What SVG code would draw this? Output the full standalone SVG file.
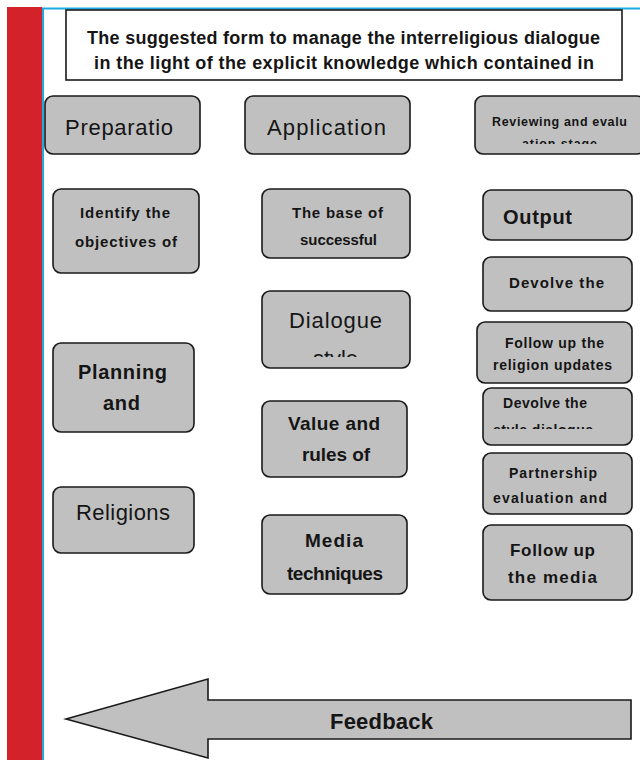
<svg xmlns="http://www.w3.org/2000/svg" width="640" height="760" viewBox="0 0 640 760">
<style>
.box{fill:#c0c0c0;stroke:#1a1a1a;stroke-width:1.6}
.t{font-family:"Liberation Sans",Arial,sans-serif;fill:#151515}
.b{font-weight:bold}
</style>
<defs>
<clipPath id="cRev"><rect x="475" y="96" width="165" height="48"/></clipPath>
<clipPath id="cDia"><rect x="262" y="291" width="148" height="66"/></clipPath>
<clipPath id="cDev2"><rect x="483" y="388" width="149" height="41"/></clipPath>
</defs>
<rect x="7" y="7" width="35" height="753" fill="#d3222a"/>
<path d="M43 8.5V760M42 8.5H640" stroke="#1ea9e3" stroke-width="2" fill="none"/>
<g id="title">
<rect x="66" y="10" width="556" height="70" fill="#fff" stroke="#1a1a1a" stroke-width="1.6"/>
<text class="t b" x="87" y="44" font-size="18" textLength="513">The suggested form to manage the interreligious dialogue</text>
<text class="t b" x="94" y="69" font-size="18" textLength="500">in the light of the explicit knowledge which contained in</text>
</g>
<g id="preparation">
<rect class="box" x="45" y="96" width="155" height="58" rx="8"/>
<text class="t" x="65" y="135" font-size="22" textLength="108">Preparatio</text>
</g>
<g id="application">
<rect class="box" x="245" y="96" width="165" height="58" rx="8"/>
<text class="t" x="267" y="135" font-size="22" textLength="119">Application</text>
</g>
<g id="reviewing">
<rect class="box" x="475" y="96" width="170" height="58" rx="8"/>
<g clip-path="url(#cRev)">
<text class="t b" x="492" y="126" font-size="12.5" textLength="135">Reviewing and evalu</text>
<text class="t b" x="522" y="148" font-size="12.5" textLength="75">ation stage</text>
</g>
</g>
<g id="identify">
<rect class="box" x="53" y="189" width="146" height="84" rx="8"/>
<text class="t b" x="80" y="218" font-size="15" textLength="90">Identify the</text>
<text class="t b" x="75" y="247" font-size="15" textLength="102">objectives of</text>
</g>
<g id="base">
<rect class="box" x="262" y="189" width="148" height="69" rx="8"/>
<text class="t b" x="292" y="218" font-size="15" textLength="91">The base of</text>
<text class="t b" x="300" y="245" font-size="15" textLength="77">successful</text>
</g>
<g id="output">
<rect class="box" x="483" y="190" width="149" height="50" rx="8"/>
<text class="t b" x="503" y="224" font-size="20" textLength="69">Output</text>
</g>
<g id="devolve1">
<rect class="box" x="483" y="257" width="149" height="54" rx="8"/>
<text class="t b" x="509" y="288" font-size="15" textLength="95">Devolve the</text>
</g>
<g id="followreligion">
<rect class="box" x="477" y="322" width="155" height="61" rx="8"/>
<text class="t b" x="505" y="348" font-size="14" textLength="99">Follow up the</text>
<text class="t b" x="493" y="370" font-size="14" textLength="119">religion updates</text>
</g>
<g id="devolve2">
<rect class="box" x="483" y="388" width="149" height="57" rx="8"/>
<text class="t b" x="503" y="408" font-size="14" textLength="84">Devolve the</text>
<g clip-path="url(#cDev2)">
<text class="t b" x="493" y="435" font-size="14" textLength="100">style dialogue</text>
</g>
</g>
<g id="partnership">
<rect class="box" x="483" y="453" width="149" height="61" rx="8"/>
<text class="t b" x="509" y="478" font-size="14" textLength="88">Partnership</text>
<text class="t b" x="493" y="503" font-size="14" textLength="114">evaluation and</text>
</g>
<g id="followmedia">
<rect class="box" x="483" y="525" width="149" height="75" rx="8"/>
<text class="t b" x="510" y="556" font-size="17" textLength="85">Follow up</text>
<text class="t b" x="508" y="583" font-size="17" textLength="89">the media</text>
</g>
<g id="dialogue">
<rect class="box" x="262" y="291" width="148" height="77" rx="8"/>
<text class="t" x="289" y="328" font-size="22" textLength="93">Dialogue</text>
<g clip-path="url(#cDia)">
<text class="t" x="313" y="366" font-size="22" textLength="45">style</text>
</g>
</g>
<g id="planning">
<rect class="box" x="53" y="343" width="141" height="89" rx="8"/>
<text class="t b" x="78" y="379" font-size="20" textLength="89">Planning</text>
<text class="t b" x="103" y="410" font-size="20" textLength="37">and</text>
</g>
<g id="value">
<rect class="box" x="262" y="401" width="145" height="76" rx="8"/>
<text class="t b" x="288" y="430" font-size="19" textLength="92">Value and</text>
<text class="t b" x="302" y="461" font-size="19" textLength="68">rules of</text>
</g>
<g id="religions">
<rect class="box" x="53" y="487" width="141" height="66" rx="8"/>
<text class="t" x="76" y="520" font-size="22" textLength="94">Religions</text>
</g>
<g id="media">
<rect class="box" x="262" y="515" width="145" height="79" rx="8"/>
<text class="t b" x="305" y="547" font-size="19" textLength="58">Media</text>
<text class="t b" x="287" y="580" font-size="19" textLength="96">techniques</text>
</g>
<g id="feedback">
<polygon points="66,719 208,679 208,700 631,700 631,739 208,739 208,758" fill="#c0c0c0" stroke="#1a1a1a" stroke-width="1.6" stroke-linejoin="miter"/>
<text class="t b" x="330" y="729" font-size="22" textLength="103">Feedback</text>
</g>
</svg>
